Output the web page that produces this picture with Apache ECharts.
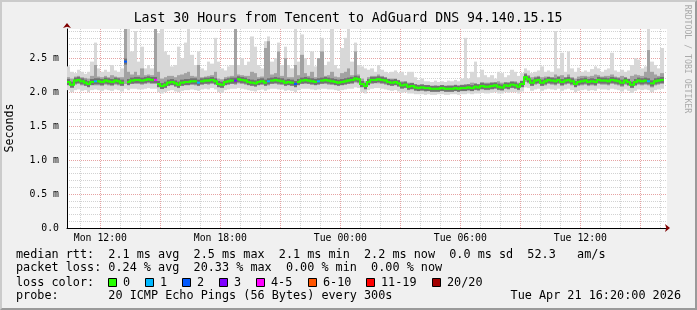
<!DOCTYPE html>
<html><head><meta charset="utf-8">
<script src="https://cdn.jsdelivr.net/npm/echarts@6/dist/echarts.min.js"></script>
<style>
html,body{margin:0;padding:0;background:#f0f0f0;}
#wrap{position:relative;width:697px;height:310px;overflow:hidden;}
#chart{position:absolute;left:0;top:0;width:697px;height:310px;}
#frame{position:absolute;left:0;top:0;width:697px;height:310px;box-sizing:border-box;border-top:2px solid #cbcbcb;border-left:2px solid #cbcbcb;border-right:2px solid #9a9a9a;border-bottom:2px solid #9a9a9a;pointer-events:none;}
</style></head><body>
<div id="wrap"><div id="chart"></div><div id="frame"></div></div>
<script>
// ---------------- data ----------------
const titleText = 'Last 30 Hours from Tencent to AdGuard DNS 94.140.15.15';
const startMinute = 620;      // Mon 10:20 (minutes since Mon 00:00)
const spanMinutes = 1800;     // 30 hours
const binMinutes = 10;
const dayNames = ['Mon', 'Tue'];
const xTickLabels = ['Mon 12:00', 'Mon 18:00', 'Tue 00:00', 'Tue 06:00', 'Tue 12:00'];
const yTickLabels = ['0.0', '0.5 m', '1.0 m', '1.5 m', '2.0 m', '2.5 m'];
const yMax = 2.93;

// median rtt (ms), one value per 10-minute bin
const med = [
 2.15,2.11,2.17,2.18,2.16,2.14,2.12,2.15,2.16,2.16,2.15,2.17,2.16,2.15,2.17,2.16,2.14,2.45,
 2.15,2.17,2.18,2.18,2.17,2.18,2.19,2.18,2.18,2.12,2.09,2.11,2.14,2.15,2.13,2.11,2.14,2.15,
 2.15,2.16,2.16,2.14,2.16,2.17,2.17,2.18,2.16,2.12,2.11,2.15,2.16,2.17,2.17,2.19,2.18,2.17,
 2.15,2.14,2.13,2.15,2.16,2.14,2.16,2.17,2.18,2.17,2.16,2.14,2.15,2.14,2.12,2.15,2.17,2.18,
 2.17,2.16,2.15,2.16,2.17,2.18,2.17,2.16,2.15,2.14,2.15,2.16,2.17,2.18,2.20,2.19,2.12,2.09,
 2.15,2.18,2.18,2.19,2.18,2.17,2.15,2.14,2.15,2.13,2.10,2.11,2.08,2.09,2.07,2.06,2.07,2.06,
 2.06,2.05,2.05,2.05,2.06,2.05,2.05,2.05,2.06,2.05,2.06,2.06,2.07,2.06,2.08,2.07,2.09,2.08,
 2.08,2.09,2.10,2.08,2.07,2.10,2.09,2.11,2.10,2.08,2.12,2.22,2.19,2.14,2.17,2.18,2.14,2.16,
 2.18,2.17,2.16,2.18,2.15,2.17,2.18,2.16,2.12,2.15,2.16,2.17,2.15,2.16,2.15,2.18,2.17,2.17,
 2.16,2.18,2.17,2.16,2.14,2.17,2.15,2.11,2.15,2.17,2.16,2.17,2.16,2.13,2.16,2.17,2.18,null
];
// smoke: minimum ping
const lo = [
 2.03,2.00,2.03,2.04,2.02,2.03,2.00,2.03,2.04,2.03,2.02,2.04,2.03,2.02,2.04,2.03,2.01,2.05,
 2.03,2.05,2.05,2.04,2.04,2.05,2.06,2.05,2.05,2.00,1.98,2.00,2.02,2.03,2.01,2.00,2.02,2.03,
 2.03,2.04,2.03,2.02,2.04,2.05,2.04,2.06,2.04,2.00,1.99,2.03,2.04,2.05,2.05,2.06,2.05,2.04,
 2.03,2.02,2.01,2.03,2.04,2.02,2.04,2.05,2.05,2.04,2.04,2.02,2.03,2.02,2.00,2.03,2.05,2.05,
 2.05,2.04,2.03,2.04,2.05,2.05,2.04,2.04,2.03,2.02,2.03,2.04,2.05,2.05,2.07,2.06,2.00,1.98,
 2.03,2.05,2.06,2.06,2.05,2.04,2.03,2.02,2.03,2.01,1.99,2.00,1.98,1.98,1.97,1.97,1.97,1.96,
 1.97,1.96,1.96,1.97,1.97,1.96,1.96,1.97,1.97,1.96,1.97,1.97,1.98,1.97,1.98,1.98,1.99,1.98,
 1.98,1.99,2.00,1.98,1.98,2.00,1.99,2.00,2.00,1.98,2.01,2.07,2.06,2.02,2.04,2.05,2.02,2.04,
 2.05,2.04,2.03,2.05,2.02,2.04,2.05,2.03,2.00,2.02,2.03,2.04,2.02,2.03,2.02,2.05,2.04,2.04,
 2.03,2.05,2.04,2.03,2.01,2.04,2.02,1.99,2.02,2.04,2.03,2.04,2.03,2.00,2.03,2.04,2.05,null
];
// smoke: lower quartile
const q1 = [
 2.10,2.07,2.11,2.12,2.10,2.09,2.07,2.10,2.10,2.10,2.09,2.11,2.10,2.09,2.11,2.10,2.09,2.12,
 2.10,2.12,2.12,2.12,2.11,2.12,2.13,2.12,2.12,2.07,2.05,2.06,2.09,2.10,2.08,2.06,2.09,2.10,
 2.10,2.11,2.10,2.09,2.11,2.12,2.11,2.12,2.11,2.07,2.06,2.10,2.11,2.12,2.11,2.13,2.12,2.11,
 2.10,2.09,2.08,2.10,2.11,2.09,2.10,2.12,2.12,2.11,2.11,2.09,2.10,2.09,2.07,2.10,2.12,2.12,
 2.12,2.11,2.10,2.11,2.12,2.12,2.11,2.11,2.10,2.09,2.10,2.11,2.12,2.12,2.14,2.13,2.07,2.04,
 2.10,2.12,2.13,2.13,2.12,2.11,2.10,2.09,2.10,2.08,2.05,2.06,2.03,2.04,2.02,2.02,2.02,2.01,
 2.02,2.01,2.01,2.01,2.02,2.01,2.01,2.01,2.02,2.01,2.02,2.02,2.03,2.02,2.03,2.03,2.04,2.03,
 2.03,2.04,2.05,2.03,2.03,2.05,2.04,2.06,2.05,2.03,2.07,2.15,2.13,2.09,2.11,2.12,2.09,2.10,
 2.12,2.11,2.10,2.12,2.09,2.11,2.12,2.10,2.07,2.09,2.10,2.11,2.09,2.10,2.09,2.12,2.11,2.11,
 2.10,2.12,2.11,2.10,2.08,2.11,2.09,2.06,2.09,2.11,2.10,2.11,2.10,2.07,2.10,2.11,2.12,null
];
// smoke: upper quartile
const q3 = [
 2.22,2.20,2.23,2.24,2.22,2.21,2.20,2.24,2.40,2.23,2.22,2.24,2.22,2.25,2.23,2.22,2.22,2.93,
 2.30,2.26,2.30,2.25,2.35,2.25,2.26,2.25,2.93,2.30,2.20,2.22,2.24,2.24,2.22,2.25,2.26,2.28,
 2.30,2.24,2.23,2.40,2.22,2.23,2.24,2.25,2.30,2.20,2.19,2.22,2.23,2.24,2.93,2.26,2.25,2.24,
 2.24,2.30,2.28,2.22,2.23,2.65,2.75,2.26,2.28,2.60,2.24,2.50,2.22,2.22,2.40,2.25,2.55,2.28,
 2.24,2.30,2.22,2.50,2.60,2.24,2.25,2.30,2.23,2.22,2.28,2.30,2.35,2.25,2.60,2.26,2.20,2.16,
 2.22,2.24,2.24,2.26,2.24,2.22,2.20,2.20,2.20,2.18,2.16,2.16,2.14,2.14,2.12,2.11,2.11,2.10,
 2.10,2.09,2.10,2.09,2.10,2.09,2.10,2.10,2.11,2.10,2.11,2.12,2.12,2.14,2.13,2.12,2.15,2.14,
 2.14,2.15,2.14,2.16,2.14,2.14,2.15,2.16,2.16,2.14,2.17,2.28,2.25,2.22,2.23,2.24,2.22,2.23,
 2.23,2.22,2.26,2.24,2.25,2.22,2.26,2.22,2.20,2.23,2.24,2.24,2.23,2.24,2.26,2.25,2.23,2.24,
 2.24,2.26,2.23,2.22,2.24,2.22,2.20,2.24,2.26,2.25,2.24,2.30,2.62,2.30,2.26,2.24,2.28,null
];
// smoke: maximum ping
const hi = [
 2.38,2.30,2.28,2.33,2.30,2.27,2.30,2.45,2.73,2.35,2.30,2.33,2.30,2.40,2.32,2.30,2.35,2.93,
 2.93,2.60,2.90,2.45,2.67,2.35,2.40,2.35,2.93,2.87,2.93,2.60,2.55,2.38,2.40,2.67,2.50,2.73,
 2.93,2.55,2.40,2.60,2.35,2.32,2.45,2.42,2.80,2.45,2.35,2.32,2.38,2.40,2.93,2.40,2.50,2.40,
 2.45,2.82,2.67,2.40,2.35,2.75,2.82,2.45,2.50,2.73,2.40,2.67,2.40,2.35,2.93,2.45,2.85,2.50,
 2.40,2.60,2.38,2.50,2.80,2.40,2.45,2.93,2.40,2.35,2.65,2.80,2.93,2.45,2.73,2.40,2.38,2.35,
 2.33,2.35,2.30,2.40,2.33,2.30,2.28,2.30,2.32,2.28,2.30,2.25,2.30,2.30,2.22,2.18,2.20,2.16,
 2.16,2.15,2.17,2.15,2.16,2.15,2.17,2.16,2.18,2.16,2.20,2.80,2.20,2.30,2.45,2.22,2.33,2.25,
 2.22,2.25,2.20,2.30,2.28,2.22,2.25,2.33,2.30,2.24,2.28,2.35,2.32,2.28,2.30,2.32,2.38,2.30,
 2.32,2.30,2.90,2.35,2.58,2.30,2.60,2.35,2.30,2.36,2.30,2.32,2.30,2.34,2.38,2.35,2.30,2.33,
 2.35,2.58,2.32,2.30,2.33,2.30,2.32,2.40,2.50,2.48,2.35,2.38,2.93,2.45,2.40,2.35,2.65,null
];
// bins with packet loss (bin index, lost pings out of 20)
const lossBin   = [8, 17, 26, 39, 50, 60, 68, 75, 174];
const lossPings = [1, 2, 4, 1, 3, 1, 2, 1, 1];

const lossLabels = ['0', '1', '2', '3', '4-5', '6-10', '11-19', '20/20'];
const lossUpTo   = [0, 1, 2, 3, 5, 10, 19, 20];
const lossColors = ['#26ff00', '#00b8ff', '#0059ff', '#7e00ff', '#ff00ff', '#ff5500', '#ff0000', '#a10000'];

const legendLines = [
  'median rtt:  2.1 ms avg  2.5 ms max  2.1 ms min  2.2 ms now  0.0 ms sd  52.3   am/s',
  'packet loss: 0.24 % avg  20.33 % max  0.00 % min  0.00 % now',
  'loss color:',
  'probe:       20 ICMP Echo Pings (56 Bytes) every 300s'
];
const stampText = 'Tue Apr 21 16:20:00 2026';
const watermark = 'RRDTOOL / TOBI OETIKER';

// ---------------- helpers ----------------
const MONO = 'DejaVu Sans Mono';
function pad(n){ return (n < 10 ? '0' : '') + n; }
function timeLabel(v){
  const t = startMinute + Math.round(v);
  const d = Math.floor(t / 1440), m = t % 1440;
  return dayNames[d] + ' ' + pad(Math.floor(m / 60)) + ':' + pad(m % 60);
}
function lossOf(i){ const k = lossBin.indexOf(i); return k < 0 ? 0 : lossPings[k]; }
function lossClass(n){ for (let c = 0; c < lossUpTo.length; c++) if (n <= lossUpTo[c]) return c; return lossUpTo.length - 1; }

const smokeData = med.map((m, i) => [i * binMinutes, (i + 1) * binMinutes, lo[i], q1[i], q3[i], hi[i]]);
const medData = med.map((m, i) => [i * binMinutes + binMinutes / 2, m]);

const T = 'rgba(0,0,0,0)', G = '#d2d2d2', R = '#e6a3a3';
// x split lines every 20 min from 10:20: grey on the hour, red every 3 hours
const xLineColors = [T, T, G, T, T, R, T, T, G];
const yLineColors = [R, G, G, G, G];

const chart = echarts.init(document.getElementById('chart'), null, {renderer: 'canvas'});

// legend graphics
const graphics = [];
graphics.push({type: 'text', x: 348, y: 18.5, style: {text: titleText, font: '13.2px "' + MONO + '"', fill: '#000', align: 'center', verticalAlign: 'middle'}});
graphics.push({type: 'text', x: 10, y: 128, rotation: Math.PI / 2, style: {text: 'Seconds', font: '11.6px "' + MONO + '"', fill: '#000', align: 'center', verticalAlign: 'middle'}});
graphics.push({type: 'text', x: 687.5, y: 59, rotation: -Math.PI / 2, style: {text: watermark, font: '8.2px "' + MONO + '"', fill: '#aaaaaa', align: 'center', verticalAlign: 'middle'}});
const lineY = [255, 268.3, 282.7, 296];
legendLines.forEach((s, k) => {
  graphics.push({type: 'text', x: 16, y: lineY[k], style: {text: s, font: '11.8px "' + MONO + '"', fill: '#000', align: 'left', verticalAlign: 'middle'}});
});
graphics.push({type: 'text', x: 681, y: lineY[3], style: {text: stampText, font: '11.8px "' + MONO + '"', fill: '#000', align: 'right', verticalAlign: 'middle'}});
let bx = 108;
lossLabels.forEach((lab, k) => {
  graphics.push({type: 'rect', shape: {x: Math.round(bx) + 0.5, y: 278.5, width: 8, height: 8}, style: {fill: lossColors[k], stroke: '#000', lineWidth: 1}});
  graphics.push({type: 'text', x: Math.round(bx) + 15, y: lineY[2], style: {text: lab, font: '11.8px "' + MONO + '"', fill: '#000', align: 'left', verticalAlign: 'middle'}});
  bx += 30 + 7.1 * lab.length;
});

const axisFont = {fontFamily: MONO, fontSize: 9.8, color: '#000'};

chart.setOption({
  animation: false,
  backgroundColor: '#f0f0f0',
  grid: {left: 67, top: 29, width: 600, height: 199, show: true, backgroundColor: '#ffffff', borderWidth: 0},
  xAxis: [{
    type: 'value', min: 0, max: spanMinutes, interval: 20, position: 'bottom',
    axisLine: {show: true, onZero: false, lineStyle: {color: '#000', width: 1}},
    axisTick: {show: false},
    axisLabel: Object.assign({margin: 5, showMinLabel: true, showMaxLabel: false,
      formatter: v => { const s = timeLabel(v); return xTickLabels.indexOf(s) >= 0 ? s : ''; }}, axisFont),
    splitLine: {show: true, lineStyle: {color: xLineColors, type: [1, 1], width: 1}}
  }, {
    type: 'value', min: 0, max: spanMinutes, position: 'bottom',
    axisLine: {show: true, onZero: false, symbol: ['none', 'arrow'], symbolSize: [6, 5], symbolOffset: [0, 3], lineStyle: {color: '#800000', width: 0}},
    axisTick: {show: false}, axisLabel: {show: false}, splitLine: {show: false}
  }],
  yAxis: [{
    type: 'value', min: 0, max: yMax, interval: 0.1, position: 'left',
    axisLine: {show: true, onZero: false, lineStyle: {color: '#000', width: 1}},
    axisTick: {show: false},
    axisLabel: Object.assign({margin: 8, showMaxLabel: false,
      formatter: v => { const k = Math.round(v * 10); if (Math.abs(v * 10 - k) > 1e-6 || k % 5) return ''; return yTickLabels[k / 5] || ''; }}, axisFont),
    splitLine: {show: true, showMaxLine: false, lineStyle: {color: yLineColors, type: [1, 1], width: 1}}
  }, {
    type: 'value', min: 0, max: yMax, position: 'left',
    axisLine: {show: true, onZero: false, symbol: ['none', 'arrow'], symbolSize: [6, 5], symbolOffset: [0, 6], lineStyle: {color: '#800000', width: 0}},
    axisTick: {show: false}, axisLabel: {show: false}, splitLine: {show: false}
  }],
  graphic: graphics,
  series: [{
    type: 'custom', name: 'smoke', xAxisIndex: 0, yAxisIndex: 0, silent: true, clip: true,
    data: smokeData,
    encode: {x: [0, 1], y: [2, 5]},
    renderItem: function (params, api) {
      const i = params.dataIndex;
      if (hi[i] == null) return null;
      const x0 = Math.round(api.coord([api.value(0), 0])[0]);
      const x1 = Math.round(api.coord([api.value(1), 0])[0]);
      const yLo = api.coord([0, api.value(2)])[1];
      const yQ1 = api.coord([0, api.value(3)])[1];
      const yQ3 = api.coord([0, api.value(4)])[1];
      const yHi = api.coord([0, api.value(5)])[1];
      const yM = api.coord([0, med[i]])[1];
      return {type: 'group', children: [
        {type: 'rect', shape: {x: x0, y: yHi, width: x1 - x0, height: yLo - yHi}, style: {fill: '#d8d8d8'}},
        {type: 'rect', shape: {x: x0, y: yQ3, width: x1 - x0, height: yQ1 - yQ3}, style: {fill: '#a2a2a2'}},
        {type: 'rect', shape: {x: x0, y: yM - 3, width: x1 - x0, height: 6}, style: {fill: '#727272'}}
      ]};
    }
  }, {
    type: 'custom', name: 'median', xAxisIndex: 0, yAxisIndex: 0, silent: true, clip: true,
    data: medData,
    encode: {x: 0, y: 1},
    renderItem: function (params, api) {
      const i = params.dataIndex;
      if (med[i] == null) return null;
      const x0 = Math.round(api.coord([i * binMinutes, 0])[0]);
      const x1 = Math.round(api.coord([(i + 1) * binMinutes, 0])[0]);
      const y = api.coord([0, med[i]])[1];
      const cls = lossClass(lossOf(i));
      const col = lossColors[cls];
      const ch = [{type: 'rect', shape: {x: x0, y: y - 1, width: x1 - x0, height: 2}, style: {fill: col}}];
      if (i > 0 && med[i - 1] != null && lossClass(lossOf(i - 1)) === cls) {
        const yp = api.coord([0, med[i - 1]])[1];
        ch.push({type: 'rect', shape: {x: x0 - 1, y: Math.min(y, yp) - 1, width: 2, height: Math.abs(y - yp) + 2}, style: {fill: col}});
      }
      return {type: 'group', children: ch};
    }
  }]
});
</script>
</body></html>
